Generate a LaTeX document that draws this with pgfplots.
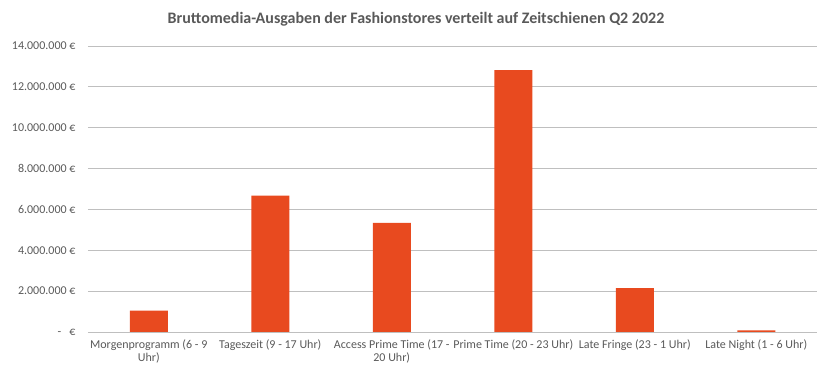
\documentclass[border=0pt]{standalone}
\usepackage{pgfplots}
\pgfplotsset{compat=1.18}
\usepackage{fontspec}
\setmainfont{Carlito}
\definecolor{barc}{HTML}{E84A1F}
\definecolor{txt}{HTML}{595959}
\definecolor{grid}{HTML}{D9D9D9}
\begin{document}
\begin{tikzpicture}[x=1pt,y=1pt]
\useasboundingbox (0,0) rectangle (832,379);
\node[font=\fontsize{16}{19}\selectfont\bfseries, text=txt] at (416,360) {Bruttomedia-Ausgaben der Fashionstores verteilt auf Zeitschienen Q2 2022};
\begin{axis}[
  at={(88pt,47pt)}, anchor=south west,
  scale only axis, width=729pt, height=286pt,
  xmin=-0.5, xmax=5.5, ymin=0, ymax=14000000,
  axis line style={draw=none},
  xtick={0,1,2,3,4,5},
  xticklabels={{Morgenprogramm (6 - 9\\Uhr)}, {Tageszeit (9 - 17 Uhr)}, {Access Prime Time (17 -\\20 Uhr)}, {Prime Time (20 - 23 Uhr)}, {Late Fringe (23 - 1 Uhr)}, {Late Night (1 - 6 Uhr)}},
  xticklabel style={font=\fontsize{12}{13.5}\selectfont, text=txt, align=center, anchor=north, yshift=-4pt},
  major tick length=0pt,
  xmajorgrids=false,
  ytick={0,2000000,4000000,6000000,8000000,10000000,12000000,14000000},
  yticklabels={{-\ \ \ €}, {2.000.000 €}, {4.000.000 €}, {6.000.000 €}, {8.000.000 €}, {10.000.000 €}, {12.000.000 €}, {14.000.000 €}},
  yticklabel style={font=\fontsize{12}{13.5}\selectfont, text=txt, anchor=east, xshift=-9pt},
  ymajorgrids, grid style={grid, line width=0.8pt},
  scaled y ticks=false,
  clip=false,
]
\addplot[ybar, bar width=38pt, fill=barc, draw=none] coordinates {(0,1050000) (1,6680000) (2,5340000) (3,12820000) (4,2150000) (5,80000)};
\end{axis}
\end{tikzpicture}
\end{document}
